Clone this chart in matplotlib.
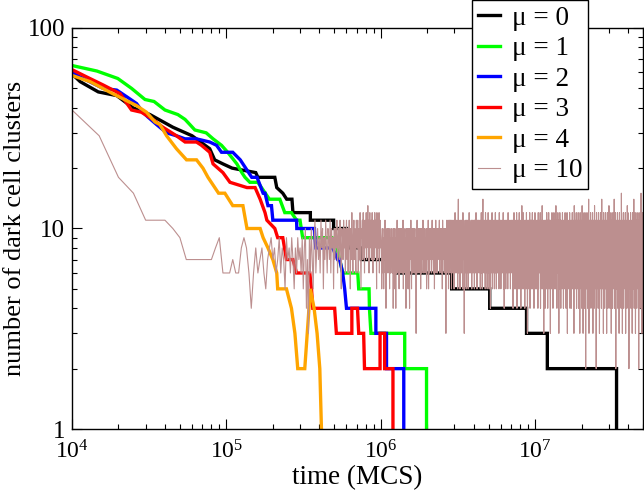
import numpy as np
import matplotlib
matplotlib.use("Agg")
import matplotlib.pyplot as plt
from matplotlib.ticker import LogLocator, FixedLocator, FixedFormatter, NullFormatter, FuncFormatter

plt.rcParams['font.family'] = ['Liberation Serif', 'DejaVu Serif']
plt.rcParams['mathtext.fontset'] = 'custom'
plt.rcParams['mathtext.rm'] = 'Liberation Serif'
plt.rcParams['mathtext.it'] = 'Liberation Serif:italic'

# ---------------- data ----------------
labels = ['μ = 0', 'μ = 1', 'μ = 2', 'μ = 3', 'μ = 4', 'μ = 10']
colors = ['black', '#00ff00', '#0000ff', '#ff0000', '#ffa500', '#bc8f8f']

t_mu0 = [1e4, 1.13e4, 1.48e4, 1.95e4, 2.48e4, 3.2e4, 4.5e4, 6.0e4, 7.8e4, 8.4e4, 9.5e4, 1.09e5,
         1.55e5, 1.6e5, 2.06e5, 2.12e5, 2.32e5, 2.46e5, 2.66e5, 2.70e5, 3.5e5, 3.5e5, 4.95e5, 4.95e5,
         6.0e5, 6.0e5, 6.4e5, 6.4e5, 7.5e5, 7.5e5, 1.27e6, 1.27e6, 2.88e6, 2.88e6, 5.08e6, 5.08e6,
         8.8e6, 8.8e6, 1.2e7, 1.2e7, 3.37e7, 3.37e7]
n_mu0 = [59, 54, 48, 46, 40, 37, 32, 29, 25, 22, 21, 20,
         19, 18, 18, 16, 15, 14, 14, 12, 12, 11, 11, 10,
         10, 9, 9, 8, 8, 7, 7, 6, 6, 5, 5, 4,
         4, 3, 3, 2, 2, 1]

t_mu1 = [1e4, 1.45e4, 1.98e4, 2.43e4, 2.97e4, 3.4e4, 4.0e4, 4.85e4, 5.4e4, 5.8e4, 6.25e4, 7.4e4,
         8.2e4, 9.3e4, 1.02e5, 1.17e5, 1.26e5, 1.32e5, 1.42e5, 1.6e5, 1.9e5, 2.22e5, 2.39e5, 2.64e5,
         2.85e5, 3.0e5, 3.12e5, 4.85e5, 5.2e5, 5.42e5, 5.67e5, 7.1e5, 7.2e5, 8.4e5, 8.45e5, 8.64e5,
         1.43e6, 1.43e6, 1.98e6, 1.98e6]
n_mu1 = [65, 61, 56, 50, 44, 43, 39, 37, 35, 33, 31, 30,
         28, 26, 24, 21, 19, 18, 17, 17, 14, 14, 12, 12,
         11, 11, 9, 9, 8, 7, 6, 6, 5, 5, 4, 3,
         3, 2, 2, 1]

t_mu2 = [1e4, 1.13e4, 1.59e4, 1.95e4, 2.3e4, 2.62e4, 2.88e4, 3.1e4, 3.53e4, 4.1e4, 4.75e4, 5.4e4,
         6.4e4, 7.8e4, 8.64e4, 9.3e4, 1.1e5, 1.23e5, 1.46e5, 1.58e5, 1.73e5, 1.78e5, 1.86e5, 1.96e5,
         2.0e5, 2.85e5, 2.86e5, 3.72e5, 3.74e5, 3.8e5, 4.88e5, 5.26e5, 5.42e5, 5.67e5, 5.84e5, 6.0e5,
         9.3e5, 9.3e5, 1.09e6, 1.09e6, 1.41e6, 1.41e6]
n_mu2 = [60, 57, 50, 49, 45, 42, 38, 36, 33, 30, 29, 28,
         28, 27, 26, 24, 24, 22, 18, 18, 15, 15, 13, 13,
         11, 11, 10, 10, 9, 8, 8, 7, 7, 6, 5, 4,
         4, 3, 3, 2, 2, 1]

t_mu3 = [1e4, 1.245e4, 1.59e4, 2.05e4, 2.43e4, 2.82e4, 3.34e4, 3.88e4, 4.75e4, 5.4e4, 6.4e4, 6.9e4,
         7.8e4, 8.2e4, 9.5e4, 1.055e5, 1.36e5, 1.535e5, 1.655e5, 1.78e5, 1.83e5, 2.06e5, 2.15e5, 2.32e5,
         2.45e5, 2.7e5, 2.85e5, 3.47e5, 3.56e5, 3.63e5, 5.03e5, 5.16e5, 6.5e5, 6.5e5, 7.07e5, 7.2e5,
         7.75e5, 7.85e5, 9.9e5, 9.9e5, 1.06e6, 1.06e6, 1.2e6, 1.2e6]
n_mu3 = [62, 57, 52, 47, 39, 38, 35, 32, 29, 27, 27, 26,
         24, 21, 19, 17, 16, 16, 14, 12, 11, 10, 9, 9,
         7, 7, 6, 6, 5, 4, 4, 3, 3, 4, 4, 3,
         3, 2, 2, 3, 3, 2, 2, 1]

t_mu4 = [1e4, 1.31e4, 1.84e4, 2.62e4, 3.04e4, 3.45e4, 3.71e4, 4.1e4, 4.75e4, 5.52e4, 6.41e4, 7.05e4,
         7.6e4, 8.9e4, 9.78e4, 1.1e5, 1.28e5, 1.36e5, 1.655e5, 1.73e5, 1.86e5, 2.0e5, 2.12e5, 2.15e5,
         2.45e5, 2.64e5, 2.78e5, 2.9e5, 3.22e5, 3.5e5, 3.7e5, 3.87e5, 4.03e5, 4.13e5]
n_mu4 = [58, 54, 47, 41, 38, 34, 33, 29, 25, 22, 22, 20,
         18, 15, 15, 13, 13, 10, 10, 9, 8, 7, 6, 5,
         5, 4, 3, 2, 2, 5, 4, 3, 2, 1]

# mu = 10 : sampled every 5000 MCS from 1e4 to 1e6
t_mu10_lin_start, t_mu10_lin_step = 1e4, 5000
n_mu10_lin = [39, 29, 18, 15, 11, 11, 11, 10, 9, 7, 7, 7, 7, 7, 7, 8, 9, 6, 6, 6, 7, 6, 6, 8, 9, 8, 6,
              4, 6, 8, 6, 7, 8, 6, 5, 7, 8, 9, 7,
              8, 6, 7, 9, 6, 8, 7, 5, 9, 7, 8, 6, 9, 7, 5, 8, 6, 9, 7, 8,
              6, 9, 5, 8, 10, 4, 7, 3, 9, 6, 10, 7, 5, 9, 11, 6, 8, 10, 7, 9,
              6, 11, 8, 10, 5, 9, 7, 11, 8, 6, 10, 9, 7, 11, 6, 10, 8, 9, 5, 10,
              7, 10, 8, 11, 6, 9, 10, 7, 11, 8, 5, 10, 9, 7, 11, 8, 10, 6, 9, 11,
              7, 10, 6, 9, 11, 8, 5, 10, 7, 12, 8, 6, 9, 11, 7, 10, 8, 6, 11, 9,
              8, 11, 6, 10, 9, 7, 12, 8, 5, 10, 9, 11, 7, 12, 8, 10, 6, 11, 9, 8,
              12, 7, 10, 9, 13, 8, 11, 6, 10, 12, 8, 9, 11, 7, 10, 12, 9, 6, 11, 8,
              10, 7, 12, 9, 11, 8, 10, 5, 12, 9, 7, 11, 10, 8, 12, 6, 9, 11, 8, 10]

# mu = 10 : dense tail from 1e6 to 5e7, log-spaced readings, one hex digit per reading
t_mu10_tail_range = (1.01e6, 5.0e7)
n_mu10_tail_hex = [
    "8579a6958a7b69486a79" "6a8795a68697a86947a6" "a5974a68b68a7a597a68" "7a69a6b58969a7948a5a" "6a95a84a78b75a96a68a",
    "a6a6973a8b697a968a79" "5a86a97b69a8a6978a56" "9a7b58a69a78a69b7a86" "8a5a97b68a96a7a89b6a" "7a968a5b79a86a97a3a8",
    "b6a7b5a8b69b7a5b8a6b" "7a5b6c8a69b7a5ae6b8a" "5b7a6b8a5c7b93a6b7a5" "b6a8b5a7c6b8a69b5a7b" "6a8b5b7a6c8a5b7a9b6a",
    "7b5a8c6b5ae7a6b8a5c6" "a7b5a6c8a5b7a4b6a8c5" "b6a7b5a8c6a5b7a6b9a5" "c7a6b5a8b6a7c5b4a6b8" "5a7b6a5c8b6a7b5a6b7a",
    "6b4a7c5b8a5b6c4a7b5a" "8c5b6a4b7d5a6c5b8a4b" "6a5c7b3a6b5a8c4b6a5b" "7c5a6b4a8c5b6a5b7a4c" "5b6a8c4b5a7d5b6a3b7a",
    "4b6a5c7b4a8c5b6a3b7a" "5c6b4a8c5b7a5d6b4a7c" "6b3a5c7b4a6b5c8a4b6a" "5c7b4a6c3b8a5b6c4a7b" "4a6c5b7a3d6b5a8c4b6a",
    "5c4b6a3c7b5a4d6b3a8c" "4b6a2c5b7a4c6e3b5a7c" "4b6a5c3b7a4d5b6a2c5b" "7a4c6b3a5c7b4e6a5b3c" "6a4b5c7a3b6c4a5d7b4a",
    "5c3b6a4c7b5e4a6c2b5a" "7c4b6a3c5b8a4f6b3a5c" "4b7a5c3b6a4d5c7b2a6b" "5c4a7b3c6a5e4b6c3a7b" "4c6a5b2c7a4b6f5a3c6b",
]

x_range = (1e4, 5e7)
y_range = (1, 100)
y_major = [1, 10, 100]
y_major_labels = ['1', '10', '100']

# ---------------- figure ----------------
fig = plt.figure(figsize=(6.44, 4.94), dpi=100)
ax = fig.add_axes([72 / 644, 1 - 429 / 494, (643 - 72) / 644, (429 - 28) / 494])

n_mu10_tail = [int(c, 16) for chunk in n_mu10_tail_hex for c in chunk]
t_mu10_lin = t_mu10_lin_start + t_mu10_lin_step * np.arange(len(n_mu10_lin))
t_mu10_tail = np.geomspace(t_mu10_tail_range[0], t_mu10_tail_range[1], len(n_mu10_tail))
t_mu10 = np.concatenate([t_mu10_lin, t_mu10_tail])
n_mu10 = np.concatenate([n_mu10_lin, n_mu10_tail])

series = [(t_mu0, n_mu0), (t_mu1, n_mu1), (t_mu2, n_mu2), (t_mu3, n_mu3), (t_mu4, n_mu4)]
handles = []
for (t, n), c, lab in zip(series, colors[:5], labels[:5]):
    h, = ax.plot(t, n, color=c, lw=2.4, label=lab, solid_joinstyle='miter')
    handles.append(h)
h, = ax.plot(t_mu10, n_mu10, color=colors[5], lw=0.8, label=labels[5])
handles.append(h)

ax.set_xscale('log')
ax.set_yscale('log')
ax.set_xlim(*x_range)
ax.set_ylim(*y_range)

ax.xaxis.set_major_locator(LogLocator(base=10, numticks=20))
ax.xaxis.set_minor_locator(LogLocator(base=10, subs=np.arange(2, 10), numticks=20))
ax.xaxis.set_major_formatter(FuncFormatter(lambda v, p: r'$10^{%d}$' % round(np.log10(v))))
ax.xaxis.set_minor_formatter(NullFormatter())
ax.yaxis.set_major_locator(FixedLocator(y_major))
ax.yaxis.set_major_formatter(FixedFormatter(y_major_labels))
ax.yaxis.set_minor_locator(LogLocator(base=10, subs=np.arange(2, 10), numticks=20))
ax.yaxis.set_minor_formatter(NullFormatter())

ax.tick_params(which='both', direction='in', top=True, right=True, width=0.8)
ax.tick_params(which='major', length=7.5)
ax.tick_params(which='minor', length=3.8)
ax.tick_params(axis='x', which='major', labelsize=17, pad=8)
ax.tick_params(axis='y', which='major', labelsize=18, pad=5)
for s in ax.spines.values():
    s.set_linewidth(1.0)

ax.set_xlabel('time (MCS)', fontsize=19.5, labelpad=1)
ax.set_ylabel('number of dark cell clusters', fontsize=19, labelpad=1)

leg = ax.legend(handles=handles, loc='upper left', bbox_to_anchor=(472 / 644, 1.0),
                bbox_transform=fig.transFigure, borderaxespad=0, fontsize=19.5,
                handlelength=0.82, handletextpad=0.42, labelspacing=0.2, borderpad=0.22,
                fancybox=False, framealpha=1, edgecolor='black')
leg.get_frame().set_linewidth(1.0)

fig.savefig('out.png', dpi=100)
